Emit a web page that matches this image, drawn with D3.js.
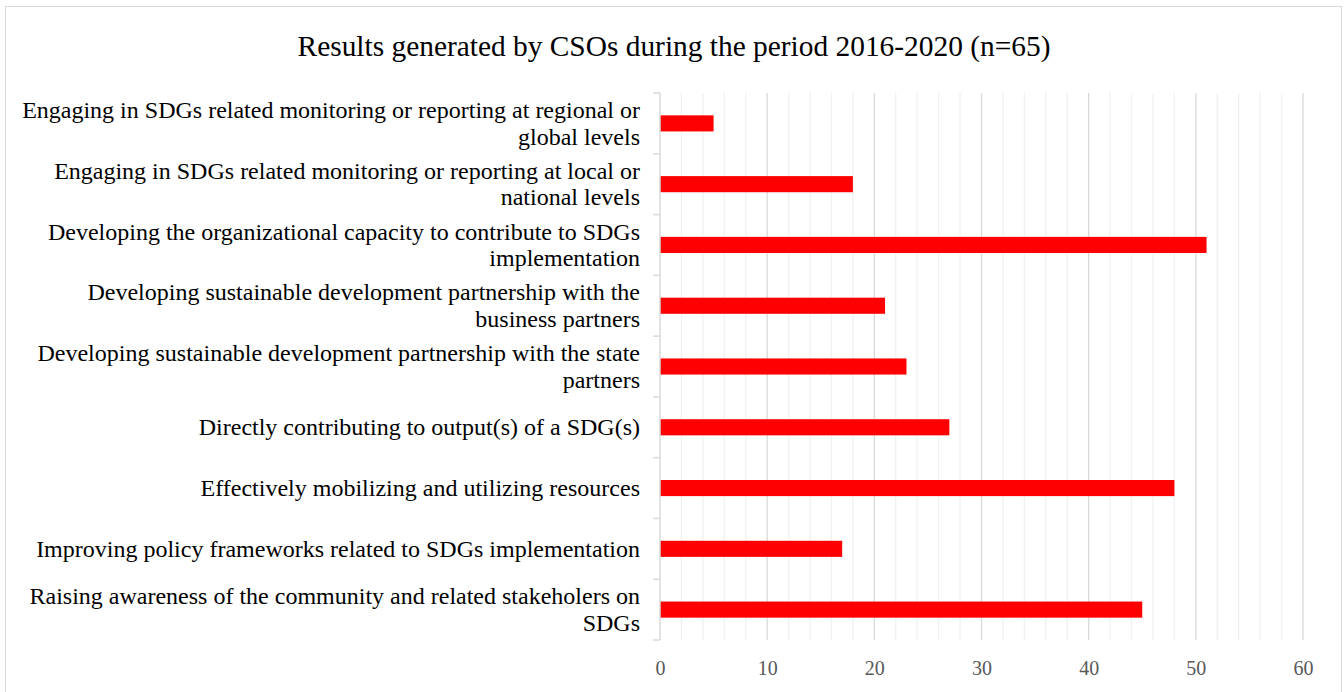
<!DOCTYPE html>
<html>
<head>
<meta charset="utf-8">
<script src="https://cdn.jsdelivr.net/npm/d3@7"></script>
<style>
  html, body { margin: 0; padding: 0; background: #ffffff; }
  svg { display: block; }
</style>
</head>
<body>
<svg id="chart" width="1344" height="692"></svg>
<script>
// Result categories, top to bottom, with their label line breaks
const categories = [
  ["Engaging in SDGs related monitoring or reporting at regional or", "global levels"],
  ["Engaging in SDGs related monitoring or reporting at local or", "national levels"],
  ["Developing the organizational capacity to contribute to SDGs", "implementation"],
  ["Developing sustainable development partnership with the", "business partners"],
  ["Developing sustainable development partnership with the state", "partners"],
  ["Directly contributing to output(s) of a SDG(s)"],
  ["Effectively mobilizing and utilizing resources"],
  ["Improving policy frameworks related to SDGs implementation"],
  ["Raising awareness of the community and related stakeholers on", "SDGs"]
];
// Number of CSOs reporting each result
const counts = [5, 18, 51, 21, 23, 27, 48, 17, 45];
const xTicks = [0, 10, 20, 30, 40, 50, 60];
const minorTicks = d3.range(0, 61, 2);
const titleText = "Results generated by CSOs during the period 2016-2020 (n=65)";

const svg = d3.select("#chart");
const plot = { left: 660, right: 1303, top: 93, bottom: 640 };
const serif = "'Liberation Serif', 'Times New Roman', serif";

// Chart frame
svg.append("rect")
  .attr("x", 5.5).attr("y", 6.5)
  .attr("width", 1336).attr("height", 700)
  .attr("fill", "#ffffff")
  .attr("stroke", "#d9d9d9").attr("stroke-width", 1);

const x = d3.scaleLinear().domain([0, 60]).range([plot.left, plot.right]);
const y = d3.scaleBand()
  .domain(d3.range(categories.length))
  .range([plot.top, plot.bottom])
  .paddingInner(0.735).paddingOuter(0.3675);
const yOuter = d3.scaleBand()
  .domain(d3.range(categories.length))
  .range([plot.top, plot.bottom]);

// Minor gridlines every 2
svg.append("g")
  .selectAll("line")
  .data(minorTicks.filter(d => d % 10 !== 0))
  .join("line")
  .attr("x1", d => x(d)).attr("x2", d => x(d))
  .attr("y1", plot.top).attr("y2", plot.bottom)
  .attr("stroke", "#f0f0f0").attr("stroke-width", 1.3);

// Major gridlines every 10
svg.append("g")
  .selectAll("line")
  .data(xTicks.filter(d => d !== 0))
  .join("line")
  .attr("x1", d => x(d)).attr("x2", d => x(d))
  .attr("y1", plot.top).attr("y2", plot.bottom)
  .attr("stroke", "#d9d9d9").attr("stroke-width", 1.3);

// Bars
svg.append("g")
  .selectAll("rect")
  .data(counts)
  .join("rect")
  .attr("x", x(0))
  .attr("y", (d, i) => y(i))
  .attr("width", d => x(d) - x(0))
  .attr("height", y.bandwidth())
  .attr("fill", "#ff0000");

// Category axis (line with outward ticks at band boundaries)
const yAxis = svg.append("g");
yAxis.append("line")
  .attr("x1", plot.left).attr("x2", plot.left)
  .attr("y1", plot.top).attr("y2", plot.bottom)
  .attr("stroke", "#d9d9d9").attr("stroke-width", 1.5);
const boundaries = d3.range(categories.length).map(i => yOuter(i)).concat([plot.bottom]);
yAxis.selectAll("line.tick")
  .data(boundaries)
  .join("line")
  .attr("class", "tick")
  .attr("x1", plot.left - 7).attr("x2", plot.left)
  .attr("y1", d => d).attr("y2", d => d)
  .attr("stroke", "#d9d9d9").attr("stroke-width", 1.5);

// Category labels
const lineH = 26.5;
const labels = svg.append("g")
  .attr("font-family", serif).attr("font-size", 24).attr("fill", "#000000")
  .attr("text-anchor", "end");
categories.forEach((lines, i) => {
  const cy = yOuter(i) + yOuter.bandwidth() / 2;
  const t = labels.append("text")
    .attr("x", 640)
    .attr("y", cy - (lines.length - 1) * lineH / 2);
  lines.forEach((ln, j) => {
    t.append("tspan").attr("x", 640).attr("dy", j === 0 ? "0.33em" : lineH).text(ln);
  });
});

// Value axis labels
const xAxis = svg.append("g")
  .attr("transform", `translate(0,${plot.bottom})`)
  .call(d3.axisBottom(x).tickValues(xTicks).tickSize(0).tickPadding(21));
xAxis.select(".domain").remove();
xAxis.selectAll("text")
  .attr("font-family", serif).attr("font-size", 20).attr("fill", "#595959");

// Title
svg.append("text")
  .attr("x", 674).attr("y", 56)
  .attr("text-anchor", "middle")
  .attr("font-family", serif).attr("font-size", 29.4).attr("fill", "#000000")
  .text(titleText);
</script>
</body>
</html>
